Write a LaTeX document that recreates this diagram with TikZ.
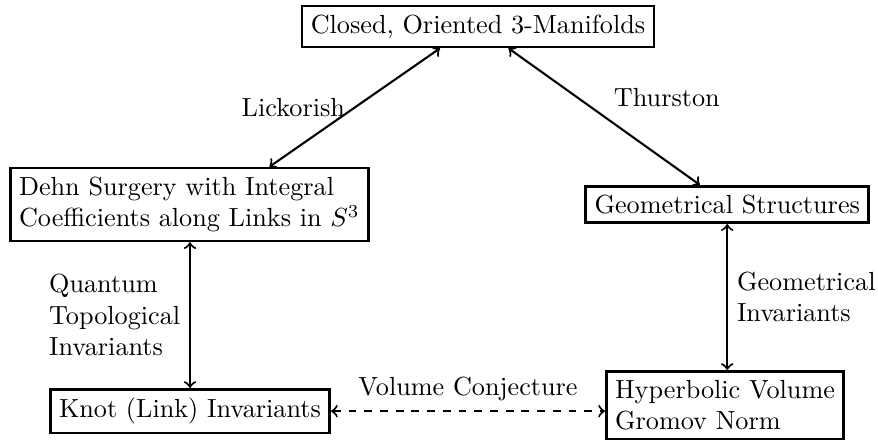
\documentclass[tikz,border=0pt]{standalone}
\usetikzlibrary{calc}
\begin{document}
\begin{tikzpicture}[x=0.3817pt,y=-0.3817pt,
    box/.style={draw,line width=1pt,inner sep=3.33pt},
    link/.style={<->,thick},
    lbl/.style={inner sep=3.33pt,align=left}]
  \useasboundingbox (0,0) rectangle (878,440);

  % statements
  \node[box] (top) at (478,26.5) {Closed, Oriented 3-Manifolds};
  \node[box,align=left,anchor=west] (dehn) at (9,204.5)
    {Dehn Surgery with Integral\\Coefficients along Links in $S^3$};
  \node[box,anchor=east] (geom) at (870,204.5) {Geometrical Structures};
  \node[box,anchor=north west] (knot) at (49,388) {Knot (Link) Invariants};
  \node[box,align=left,anchor=north east] (hyp) at (845,370)
    {Hyperbolic Volume\\Gromov Norm};

  % relations
  \draw[link] ($(top.south)+(-38,0)$) -- node[lbl,left] {Lickorish}
    ($(dehn.north)+(80,0)$);
  \draw[link] (top) -- node[lbl,above right] {Thurston} (geom);
  \draw[link] (knot.north |- dehn.south) -- node[lbl,left]
    {Quantum\\Topological\\Invariants} (knot.north);
  \draw[link] (geom.south) -- node[lbl,right]
    {Geometrical\\Invariants} (geom.south |- hyp.north);
  \draw[link,dashed] (knot.east) -- node[lbl,above] {Volume Conjecture}
    (knot.east -| hyp.west);
\end{tikzpicture}
\end{document}
